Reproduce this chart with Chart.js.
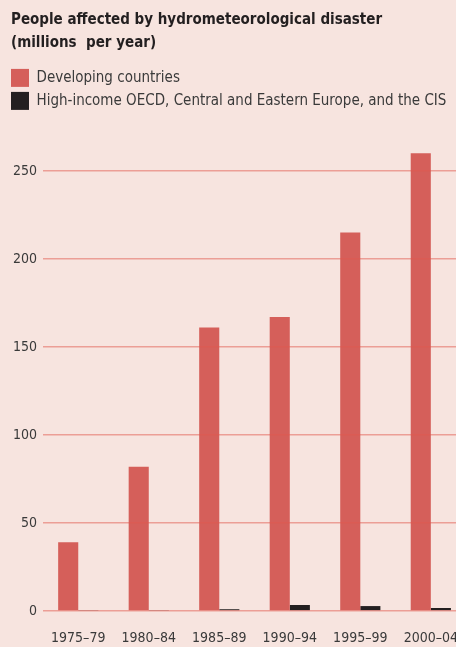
<!DOCTYPE html>
<html>
<head>
<meta charset="utf-8">
<script src="https://cdn.jsdelivr.net/npm/chart.js@4/dist/chart.umd.min.js"></script>
<style>
  html, body { margin: 0; padding: 0; background: #f7e4df; overflow: hidden; width: 456px; height: 647px; }
  canvas { display: block; }
</style>
</head>
<body>
<canvas id="myChart" width="477" height="647"></canvas>
<script>
var periods = ['1975\u201379', '1980\u201384', '1985\u201389', '1990\u201394', '1995\u201399', '2000\u201304'];
var developing = [39, 82, 161, 167, 215, 260];
var highIncome = [0.3, 0.3, 1, 3.4, 2.8, 1.7];
var yTicks = [0, 50, 100, 150, 200, 250];

var narrow = '"DejaVu Sans Condensed", "Liberation Sans Narrow", sans-serif';
var ctx = document.getElementById('myChart').getContext('2d');

// legend boxes sit flush with the title in the original
var shiftLegend = {
  id: 'shiftLegend',
  afterLayout: function(chart) {
    chart.legend.left -= 5;
    chart.legend.right -= 5;
  }
};

var chart = new Chart(ctx, {
    type: 'bar',
    data: {
        labels: periods,
        datasets: [{
          label: 'Developing countries',
          backgroundColor: '#d55f5a',
          data: developing
        },{
          label: 'High-income OECD, Central and Eastern Europe, and the CIS',
          backgroundColor: '#231f20',
          data: highIncome
        }]
      },
    plugins: [shiftLegend],
    options: {
      responsive: false,
      animation: false,
      categoryPercentage: 0.57,
      barPercentage: 1,
      layout: { padding: { left: 11, right: 0, top: 0, bottom: 0 } },
      plugins: {
        title: {
          display: true,
          text: ['People affected by hydrometeorological disaster', '(millions  per year)'],
          align: 'start',
          color: '#231f20',
          font: { family: narrow, size: 15, weight: 'bold', lineHeight: 1.53 },
          padding: { top: 9, bottom: 9 }
        },
        legend: {
          position: 'top',
          align: 'start',
          labels: {
            boxWidth: 18,
            boxHeight: 18,
            padding: 5,
            color: '#3a3a3a',
            font: { family: narrow, size: 15 }
          }
        },
        tooltip: { enabled: false }
      },
      scales: {
        x: {
          grid: { display: false, drawTicks: false },
          border: { display: false },
          afterFit: function(axis) { axis.height = 36; },
          ticks: { color: '#3a3a3a', font: { family: narrow, size: 14 }, padding: 19, maxRotation: 0, autoSkip: false }
        },
        y: {
          min: 0,
          max: 279,
          afterBuildTicks: function(axis) {
            axis.ticks = yTicks.map(function(v) { return { value: v }; });
          },
          afterFit: function(axis) { axis.width = 32; },
          grid: { color: 'rgba(226, 88, 78, 0.5)', lineWidth: 1.5, drawTicks: false, z: 1 },
          border: { display: false },
          ticks: { color: '#3a3a3a', font: { family: narrow, size: 14 }, padding: 6 }
        }
      }
    }
});
</script>
</body>
</html>
